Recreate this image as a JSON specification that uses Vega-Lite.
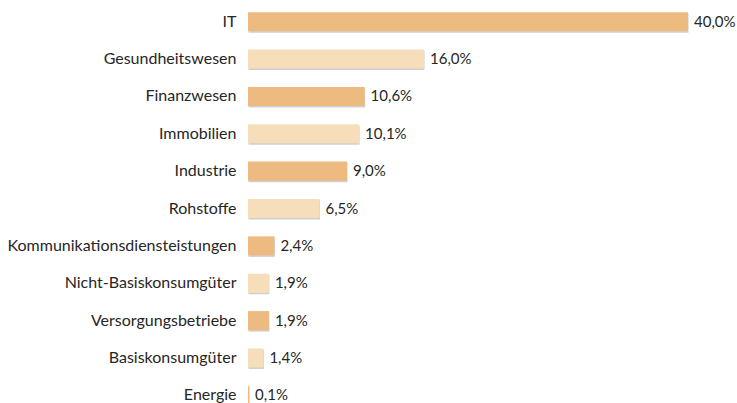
{
  "$schema": "https://vega.github.io/schema/vega-lite/v6.json",
  "width": 440,
  "height": 411,
  "autosize": {"type": "none"},
  "padding": {"left": 248, "top": 3, "right": 49, "bottom": 0},
  "background": "white",
  "config": {
    "view": {"stroke": null},
    "locale": {"number": {"decimal": ",", "thousands": ".", "grouping": [3], "currency": ["", " €"]}},
    "font": "Lato"
  },
  "data": {
    "values": [
      {"rank": 1, "sector": "IT", "share": 0.400},
      {"rank": 2, "sector": "Gesundheitswesen", "share": 0.160},
      {"rank": 3, "sector": "Finanzwesen", "share": 0.106},
      {"rank": 4, "sector": "Immobilien", "share": 0.101},
      {"rank": 5, "sector": "Industrie", "share": 0.090},
      {"rank": 6, "sector": "Rohstoffe", "share": 0.065},
      {"rank": 7, "sector": "Kommunikationsdiensteistungen", "share": 0.024},
      {"rank": 8, "sector": "Nicht-Basiskonsumgüter", "share": 0.019},
      {"rank": 9, "sector": "Versorgungsbetriebe", "share": 0.019},
      {"rank": 10, "sector": "Basiskonsumgüter", "share": 0.014},
      {"rank": 11, "sector": "Energie", "share": 0.001}
    ]
  },
  "encoding": {
    "y": {
      "field": "sector",
      "type": "nominal",
      "sort": {"field": "rank", "order": "ascending"},
      "scale": {"paddingInner": 0.49, "paddingOuter": 0.245},
      "axis": {
        "title": null,
        "domain": false,
        "ticks": false,
        "labelPadding": 12,
        "labelFontSize": 16,
        "labelLimit": 400,
        "labelColor": "#262626",
        "labelFont": "Lato"
      }
    },
    "x": {
      "field": "share",
      "type": "quantitative",
      "scale": {"domain": [0, 0.4], "nice": false},
      "axis": null
    }
  },
  "layer": [
    {
      "mark": {"type": "bar", "color": "#a9a9a9", "opacity": 0.55, "yOffset": 1.5, "xOffset": 0.5}
    },
    {
      "mark": {"type": "bar"},
      "encoding": {
        "color": {
          "condition": {"test": "datum.rank % 2 == 1", "value": "#EDBA80"},
          "value": "#F7DEBA"
        }
      }
    },
    {
      "mark": {"type": "text", "align": "left", "dx": 6, "fontSize": 15, "color": "#262626", "font": "Lato"},
      "encoding": {
        "text": {"field": "share", "type": "quantitative", "format": ".1%"}
      }
    }
  ]
}
